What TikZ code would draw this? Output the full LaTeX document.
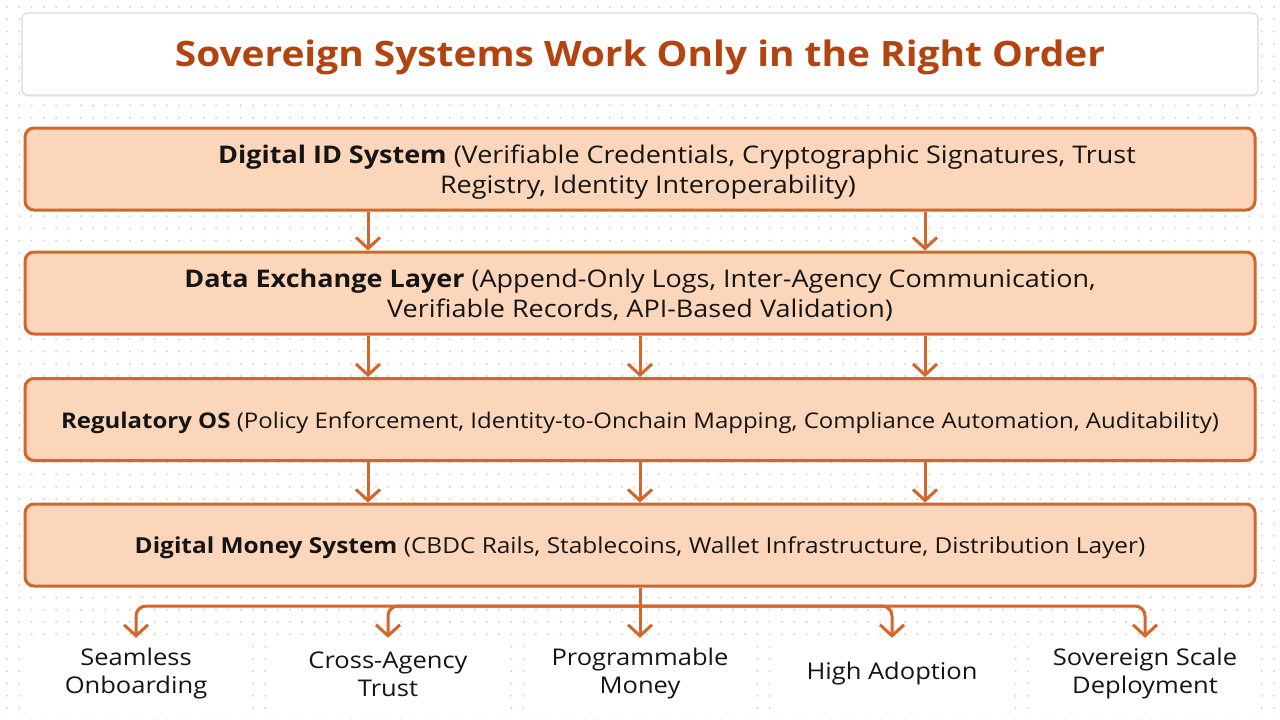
\documentclass[tikz,border=0pt]{standalone}
\usepackage{fontspec}
\setmainfont{Open Sans}[FakeStretch=1.11]
\usetikzlibrary{arrows.meta,shadows}
\definecolor{peach}{HTML}{FCD6BA}
\definecolor{edgec}{HTML}{D4652B}
\definecolor{titlec}{HTML}{B4440F}
\definecolor{ink}{HTML}{151515}
\definecolor{dotc}{HTML}{D2D2D2}
\definecolor{frame}{HTML}{DADADA}
\newcommand{\lyrtext}[2][-3pt]{\raisebox{#1}[\height][\depth]{\begin{tabular}{@{}c@{}}#2\end{tabular}}}
\begin{document}
\begin{tikzpicture}[x=1pt,y=-1pt,
  layerbox/.style={draw=edgec, line width=3pt, fill=peach, rounded corners=9pt,
    minimum width=1230pt, minimum height=82pt, align=center, text=ink},
  bigtext/.style={font=\fontsize{24.3}{30}\selectfont},
  smalltext/.style={font=\fontsize{21.6}{28}\selectfont},
  arr/.style={draw=edgec, line width=3pt, -{Straight Barb[length=11pt,width=24pt]}},
  outlabel/.style={fill=white, minimum width=232pt, minimum height=72pt, align=center,
    text=ink, font=\fontsize{23}{28}\selectfont, inner sep=0pt}]
\path[use as bounding box, fill=white] (0,0) rectangle (1280,720);
% dot grid
\foreach \r in {0,...,58}
  \draw[dotc, line width=2.2pt, line cap=round, dash pattern=on 0pt off 12.3pt]
    (7, 7+\r*12.3) -- (1280, 7+\r*12.3);
% title
\node[draw=frame, line width=1.2pt, fill=white, rounded corners=6pt,
  minimum width=1236pt, minimum height=82pt,
  drop shadow={opacity=0.12, shadow xshift=0pt, shadow yshift=-2pt},
  text=titlec, font=\bfseries\fontsize{35}{40}\selectfont] (title) at (640,54)
  {\raisebox{-3pt}[\height][\depth]{Sovereign Systems Work Only in the Right Order}};
% layers
\node[layerbox, bigtext] (id) at (640,169)
  {\lyrtext{\hspace*{74pt}\textbf{Digital ID System} (Verifiable Credentials, Cryptographic Signatures, Trust\\\hspace*{16pt}Registry, Identity Interoperability)}};
\node[layerbox, bigtext] (dx) at (640,293)
  {\lyrtext{\textbf{Data Exchange Layer} (Append-Only Logs, Inter-Agency Communication,\\Verifiable Records, API-Based Validation)}};
\node[layerbox, smalltext] (reg) at (640,419.5)
  {\lyrtext{\textbf{Regulatory OS} (Policy Enforcement, Identity-to-Onchain Mapping, Compliance Automation, Auditability)}};
\node[layerbox, font=\fontsize{22}{28}\selectfont] (money) at (640,545)
  {\lyrtext{\textbf{Digital Money System} (CBDC Rails, Stablecoins, Wallet Infrastructure, Distribution Layer)}};
% arrows between layers
\draw[arr] ([xshift=-272pt]id.south) -- ([xshift=-272pt]dx.north);
\draw[arr] ([xshift=285pt]id.south) -- ([xshift=285pt]dx.north);
\foreach \s in {-272,0,285} {
  \draw[arr] ([xshift=\s pt]dx.south) -- ([xshift=\s pt]reg.north);
  \draw[arr] ([xshift=\s pt]reg.south) -- ([xshift=\s pt]money.north);
}
% outcomes
\node[outlabel] (o1) at (136,674) {Seamless\\Onboarding};
\node[outlabel] (o2) at (388,674) {Cross-Agency\\Trust};
\node[outlabel] (o3) at (640,674) {Programmable\\Money};
\node[outlabel] (o4) at (892,674) {High Adoption};
\node[outlabel] (o5) at (1145,674) {Sovereign Scale\\Deployment};
\coordinate (hub) at (640,606);
\draw[draw=edgec, line width=3pt] (money.south) -- (hub);
\foreach \o in {o1,o2,o4,o5}
  \draw[arr, rounded corners=10pt] (hub) -| (\o.north);
\draw[arr] (hub) -- (o3.north);
\end{tikzpicture}
\end{document}
